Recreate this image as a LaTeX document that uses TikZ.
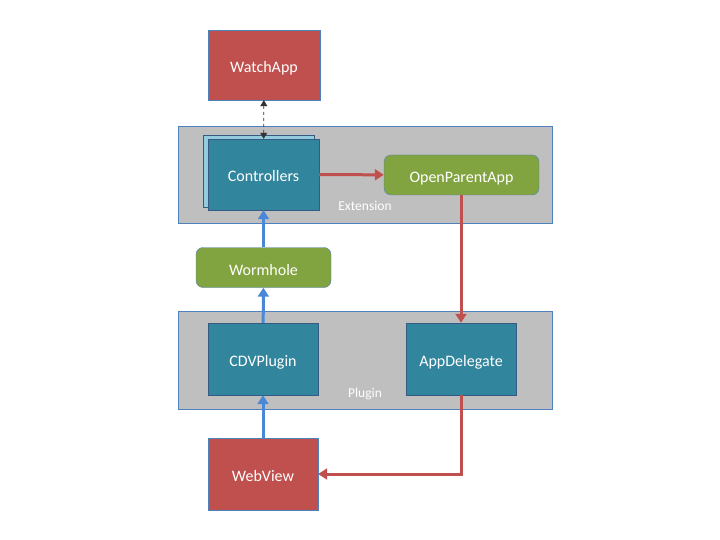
\documentclass[tikz,border=0pt]{standalone}
\usepackage{fontspec}
\setmainfont{Carlito}
\usetikzlibrary{arrows.meta}
\definecolor{appred}{HTML}{C0504D}
\definecolor{classteal}{HTML}{31859C}
\definecolor{backblue}{HTML}{93CDDD}
\definecolor{msggreen}{HTML}{82A440}
\definecolor{panelgrey}{HTML}{BFBFBF}
\definecolor{rimblue}{HTML}{4F81BD}
\definecolor{flowblue}{HTML}{4A88D6}
\definecolor{flowred}{HTML}{C0504D}
\tikzset{
  panel/.style={draw=rimblue, fill=panelgrey, minimum width=374pt, minimum height=97pt},
  boxtext/.style={text=white, text height=15pt, text depth=0pt, font=\fontsize{16}{18}\selectfont},
  app/.style={boxtext, draw=rimblue, fill=appred, minimum width=112pt, minimum height=70pt},
  cls/.style={boxtext, draw=rimblue!70!black, fill=classteal, minimum width=110pt, minimum height=72pt},
  msg/.style={boxtext, draw=rimblue, fill=msggreen, rounded corners=7pt, minimum height=40pt},
  tag/.style={text=white, font=\fontsize{13.5}{15}\selectfont},
  upflow/.style={draw=flowblue, line width=3pt, -{Triangle[length=9pt,width=11pt]}},
  redflow/.style={draw=flowred, line width=3pt, -{Triangle[length=9pt,width=11pt]}},
  watchlink/.style={draw=black!80, thick, dashed, {Triangle[length=6pt,width=7pt]}-{Triangle[length=6pt,width=7pt]}}
}
\begin{document}
\begin{tikzpicture}[x=1pt,y=-1pt]
  \useasboundingbox (0,0) rectangle (720,540);
  \draw
    (365,174.5) node[panel] (extension){}
    (365,360) node[panel, minimum height=98pt] (plugin){}
    (365,206) node[tag] (extlabel){Extension}
    (365,394) node[tag] (pluglabel){Plugin}
    (264,65) node[app] (watchapp){WatchApp}
    (258.5,171) node[cls, minimum width=111pt, minimum height=72pt, fill=backblue] (ctrlback){}
    (263.5,174.5) node[cls, minimum width=111pt, minimum height=71pt] (controllers){Controllers}
    (461.5,175) node[msg, minimum width=155pt] (openparent){OpenParentApp}
    (263.5,267.5) node[msg, minimum width=135pt] (wormhole){Wormhole}
    (263,359) node[cls] (cdvplugin){CDVPlugin}
    (461,359) node[cls] (appdelegate){AppDelegate}
    (263,474) node[app, minimum width=110pt, minimum height=72pt] (webview){WebView};
  \begin{scope}
    \draw[watchlink] (watchapp) to (controllers);
    \draw[redflow] (controllers) to (openparent);
    \draw[redflow] (openparent.south -| appdelegate) to (appdelegate);
    \draw[redflow] (appdelegate) |- (webview);
    \draw[upflow] (webview) to (cdvplugin);
    \draw[upflow] (cdvplugin) to (wormhole);
    \draw[upflow] (wormhole) to (controllers);
  \end{scope}
\end{tikzpicture}
\end{document}
